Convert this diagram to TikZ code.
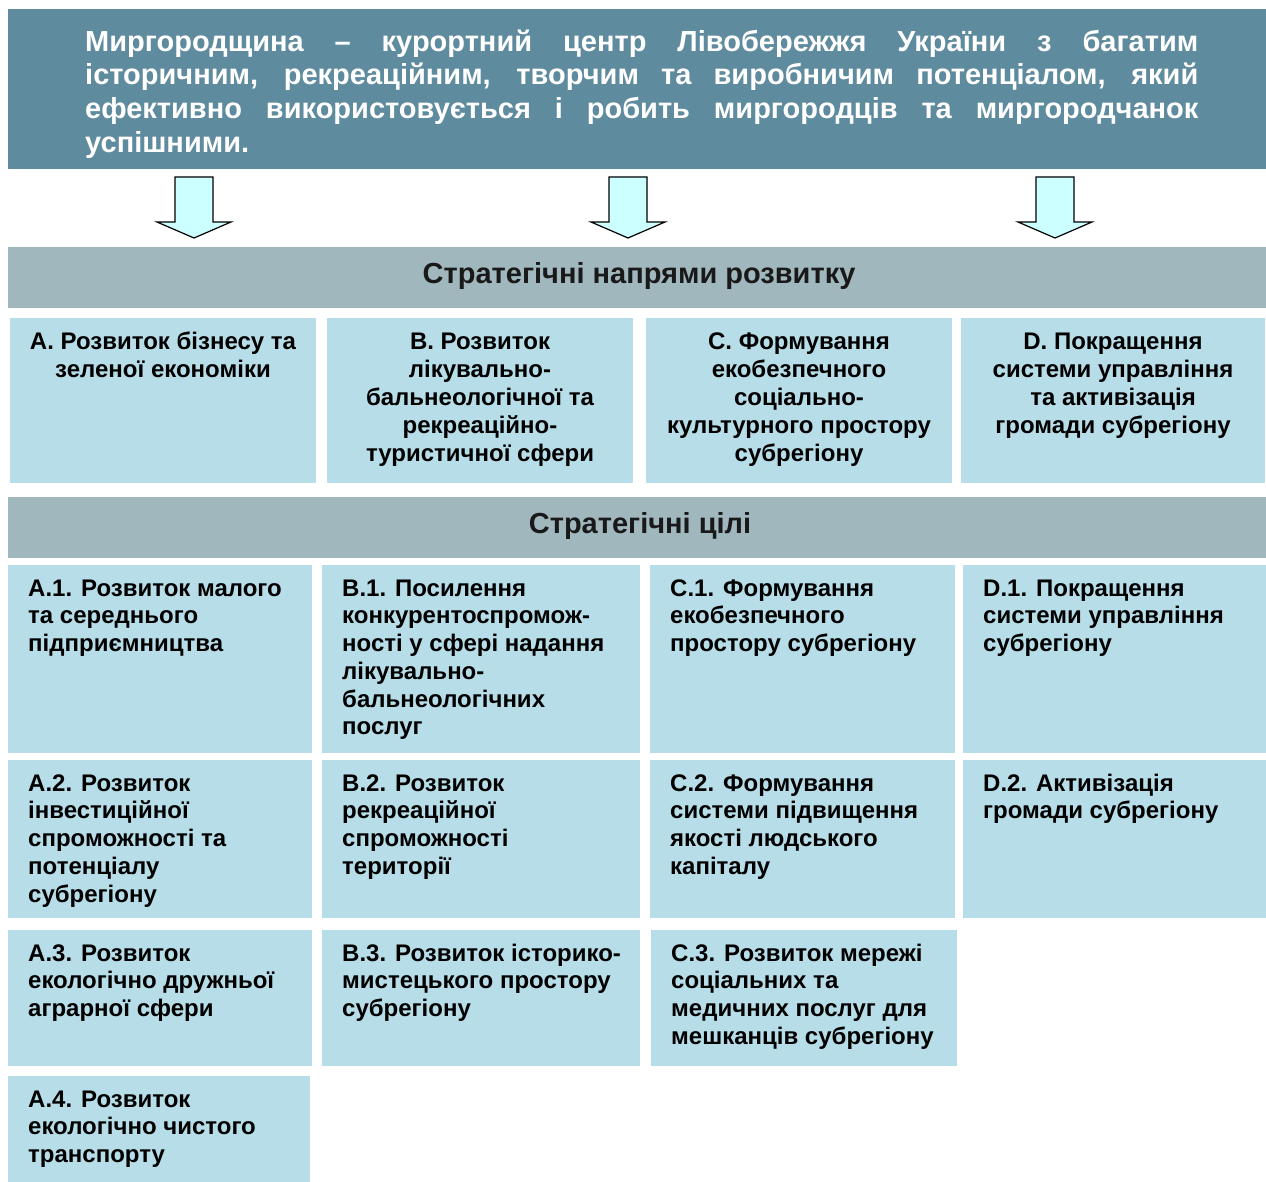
\documentclass[tikz,border=0pt]{standalone}
\usepackage{fontspec}
\setmainfont{Liberation Sans}
\usetikzlibrary{calc}
\definecolor{topbg}{HTML}{5F8B9E}
\definecolor{hdrbg}{HTML}{9FB7BD}
\definecolor{lb}{HTML}{B7DDE8}
\definecolor{arrfill}{HTML}{CCFFFF}
\tikzset{
  gtext/.style={inner sep=0pt, align=left, font=\bfseries\fontsize{24}{27.7}\selectfont, text=black},
  dtext/.style={inner sep=0pt, align=center, font=\bfseries\fontsize{24}{28}\selectfont, text=black},
  htext/.style={inner sep=0pt, font=\bfseries\fontsize{29}{32}\selectfont, text=black!90},
  blockarrow/.style={fill=arrfill, draw=black, line width=1.2pt, line join=miter},
}
\newcommand\gbox[6]{%
  \fill[lb] (#2,#3) rectangle (#4,#5);
  \node[gtext, anchor=north west] (#1) at (#2+20,#3+31-22) {\rule{0pt}{22pt}#6};}
\newcommand\dbox[6]{%
  \fill[lb] (#2,#3) rectangle (#4,#5);
  \node[dtext, anchor=north] (#1) at ({(#2+#4)/2},#3+31-22) {\rule{0pt}{22pt}#6};}
\newcommand\barrow[2]{%
  \coordinate (#1) at (#2,177);
  \draw[blockarrow] ($(#1)+(-19,0)$) -- ($(#1)+(19,0)$) -- ($(#1)+(19,45)$) -- ($(#1)+(37,45)$)
    -- ($(#1)+(0,61)$) -- ($(#1)+(-37,45)$) -- ($(#1)+(-19,45)$) -- cycle;}
\begin{document}
\begin{tikzpicture}[x=1pt,y=-1pt]
\useasboundingbox (0,0) rectangle (1266,1182);
% top box
\fill[topbg] (8,9) rectangle (1266,169);
\node[inner sep=0pt, anchor=north west, align=left, text=white,
      font=\bfseries\fontsize{29}{33.7}\selectfont] (vision) at (85,51-26)
 {\rule{0pt}{26pt}\makebox[1113pt][s]{Миргородщина – курортний центр Лівобережжя України з багатим}\\
  \makebox[1113pt][s]{історичним, рекреаційним, творчим та виробничим потенціалом, який}\\
  \makebox[1113pt][s]{ефективно використовується і робить миргородців та миргородчанок}\\
  успішними.};
% arrows
\barrow{ar1}{194}
\barrow{ar2}{628}
\barrow{ar3}{1055}
% header 1
\fill[hdrbg] (8,247) rectangle (1266,308);
\node[htext] (hdr1) at (639,276) {Стратегічні напрями розвитку};
% directions
\dbox{dA}{10}{318}{316}{483}{А. Розвиток бізнесу та\\зеленої економіки}
\dbox{dB}{327}{318}{633}{483}{B. Розвиток\\лікувально-\\бальнеологічної та\\рекреаційно-\\туристичної сфери}
\dbox{dC}{646}{318}{952}{483}{С. Формування\\екобезпечного\\соціально-\\культурного простору\\субрегіону}
\dbox{dD}{961}{318}{1265}{483}{D. Покращення\\системи управління\\та активізація\\громади субрегіону}
% header 2
\fill[hdrbg] (8,497) rectangle (1266,558);
\node[htext] (hdr2) at (640,526) {Стратегічні цілі};
% goals row 1
\gbox{gA1}{8}{565}{312}{753}{А.1. Розвиток малого\\та середнього\\підприємництва}
\gbox{gB1}{322}{565}{640}{753}{В.1. Посилення\\конкурентоспромож-\\ності у сфері надання\\лікувально-\\бальнеологічних\\послуг}
\gbox{gC1}{650}{565}{955}{753}{С.1. Формування\\екобезпечного\\простору субрегіону}
\gbox{gD1}{963}{565}{1266}{753}{D.1. Покращення\\системи управління\\субрегіону}
% row 2
\gbox{gA2}{8}{760}{312}{918}{А.2. Розвиток\\інвестиційної\\спроможності та\\потенціалу\\субрегіону}
\gbox{gB2}{322}{760}{640}{918}{В.2. Розвиток\\рекреаційної\\спроможності\\території}
\gbox{gC2}{650}{760}{955}{918}{С.2. Формування\\системи підвищення\\якості людського\\капіталу}
\gbox{gD2}{963}{760}{1266}{918}{D.2. Активізація\\громади субрегіону}
% row 3
\gbox{gA3}{8}{930}{312}{1066}{А.3. Розвиток\\екологічно дружньої\\аграрної сфери}
\gbox{gB3}{322}{930}{640}{1066}{В.3. Розвиток історико-\\мистецького простору\\субрегіону}
\gbox{gC3}{651}{930}{957}{1066}{С.3. Розвиток мережі\\соціальних та\\медичних послуг для\\мешканців субрегіону}
% row 4
\gbox{gA4}{8}{1076}{310}{1182}{А.4. Розвиток\\екологічно чистого\\транспорту}
\end{tikzpicture}
\end{document}
